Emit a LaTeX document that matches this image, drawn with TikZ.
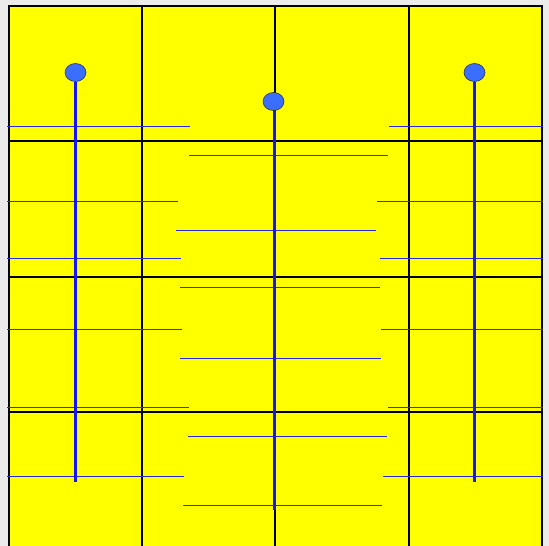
\documentclass[tikz,border=0pt]{standalone}
\usetikzlibrary{shapes.geometric}
\definecolor{bgray}{RGB}{235,235,235}
\definecolor{yel}{RGB}{255,255,0}
\definecolor{knob}{RGB}{58,110,255}
\definecolor{pole}{RGB}{20,20,255}
\definecolor{thincol}{RGB}{40,40,230}
\tikzset{
  gridline/.style={black,line width=2pt},
  thinline/.style={draw=thincol,line width=1pt},
  poleline/.style={draw=pole,line width=3pt},
  knobnode/.style={ellipse,draw=black!80,fill=knob,line width=0.6pt,minimum width=21pt,minimum height=18pt,inner sep=0pt}
}
\begin{document}
\begin{tikzpicture}[x=1pt,y=-1pt]
\useasboundingbox (0,0) rectangle (549,546);
\fill[bgray] (0,0) rectangle (549,546);
\fill[yel] (9,6) rectangle (542,546);
% grid
\draw[gridline] (9,546) -- (9,6) -- (542,6) -- (542,546);
\draw[black,line width=2.6pt] (8,6) -- (543,6);
\foreach \x in {141.5,275,409} \draw[gridline] (\x,6) -- (\x,546);
\foreach \y in {140.5,276.5,412} \draw[gridline] (9,\y) -- (542,\y);
% side thin lines
\foreach \y/\a/\b in {126/190/389, 201/178/377, 258/181/380, 329/182/381, 407.5/189/388, 476.5/184/383}{
  \draw[thinline] (7,\y) -- (\a,\y);
  \draw[thinline] (\b,\y) -- (543,\y);
}
% centre thin lines
\foreach \y/\a/\b in {155/189/388, 230/176/376, 287/180/380, 358/180/381, 436.5/188/387, 505/183/382}{
  \draw[thinline] (\a,\y) -- (\b,\y);
}
% poles
\coordinate (e1) at (75.5,482);
\coordinate (e2) at (274,510);
\coordinate (e3) at (474.5,482);
\node[knobnode] (k1) at (75.5,72.5) {};
\node[knobnode] (k2) at (273.5,101.5) {};
\node[knobnode] (k3) at (474.5,72.5) {};
\draw[poleline] (k1.south) -- (e1);
\draw[poleline] (k2.south -| e2) -- (e2);
\draw[poleline] (k3.south) -- (e3);
\end{tikzpicture}
\end{document}
